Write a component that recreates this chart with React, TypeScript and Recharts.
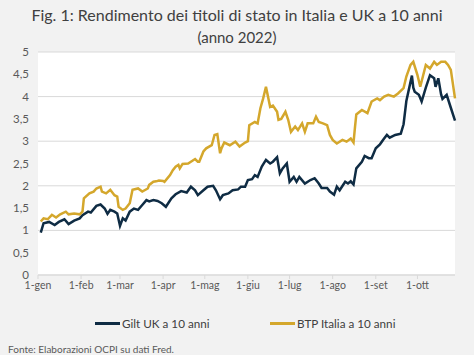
import React from "react";
import { LineChart, Line, XAxis, YAxis, CartesianGrid, Legend } from "recharts";

// Day of year (0 = 1 January 2022) and 10-year yields (%)
const giltDays = [2, 4, 8, 12, 15, 19, 22, 26, 30, 32, 36, 38, 42, 45, 48, 50, 52, 55, 57, 59, 61, 63, 66, 69, 72, 75, 78, 80, 83, 86, 89, 92, 96, 99, 103, 107, 110, 113, 115, 119, 122, 126, 128, 131, 133, 137, 140, 144, 146, 149, 151, 154, 156, 158, 161, 164, 167, 169, 172, 174, 176, 179, 181, 184, 186, 188, 192, 196, 199, 202, 204, 208, 210, 213, 215, 217, 221, 223, 225, 227, 229, 233, 235, 238, 240, 243, 246, 249, 251, 253, 257, 261, 263, 265, 269, 270, 271, 274, 276, 279, 282, 285, 286, 288, 290, 291, 294, 297, 300];
const giltValues = [0.95, 1.16, 1.19, 1.12, 1.19, 1.25, 1.14, 1.22, 1.27, 1.34, 1.42, 1.4, 1.55, 1.58, 1.49, 1.37, 1.46, 1.42, 1.38, 1.1, 1.27, 1.22, 1.42, 1.49, 1.46, 1.57, 1.68, 1.65, 1.68, 1.66, 1.61, 1.53, 1.72, 1.81, 1.88, 1.85, 1.98, 1.9, 1.79, 1.9, 1.98, 2.0, 1.9, 1.7, 1.79, 1.83, 1.9, 1.92, 1.98, 1.98, 2.13, 2.15, 2.24, 2.2, 2.43, 2.58, 2.5, 2.54, 2.64, 2.28, 2.39, 2.5, 2.09, 2.2, 2.09, 2.2, 2.05, 2.13, 2.17, 2.05, 1.95, 1.95, 1.87, 1.8, 1.98, 1.9, 2.09, 2.05, 2.1, 2.03, 2.39, 2.54, 2.67, 2.62, 2.62, 2.84, 2.93, 3.06, 3.14, 3.08, 3.14, 3.17, 3.38, 3.9, 4.47, 4.2, 4.11, 4.04, 3.89, 4.2, 4.48, 4.41, 4.22, 4.41, 4.05, 3.95, 4.04, 3.75, 3.46];

const btpDays = [2, 4, 7, 10, 13, 16, 20, 22, 26, 30, 32, 33, 37, 40, 42, 45, 46, 49, 52, 55, 57, 58, 61, 63, 66, 68, 72, 75, 79, 80, 83, 85, 87, 90, 91, 95, 97, 99, 101, 102, 104, 108, 110, 113, 115, 116, 119, 121, 125, 127, 129, 131, 132, 134, 138, 142, 145, 149, 151, 152, 156, 158, 160, 162, 164, 167, 169, 172, 173, 175, 178, 180, 182, 185, 187, 190, 192, 194, 198, 200, 202, 205, 208, 210, 212, 215, 219, 222, 225, 227, 228, 229, 233, 237, 240, 244, 246, 249, 252, 256, 259, 263, 265, 268, 270, 273, 275, 279, 282, 285, 287, 290, 293, 295, 297, 300];
const btpValues = [1.2, 1.27, 1.25, 1.35, 1.29, 1.36, 1.42, 1.36, 1.38, 1.36, 1.42, 1.72, 1.83, 1.87, 1.94, 1.98, 1.87, 1.83, 1.91, 1.79, 1.76, 1.53, 1.46, 1.49, 1.61, 1.91, 1.94, 1.87, 1.94, 2.02, 2.09, 2.1, 2.12, 2.11, 2.09, 2.24, 2.35, 2.43, 2.47, 2.39, 2.49, 2.5, 2.54, 2.6, 2.54, 2.54, 2.77, 2.84, 2.91, 3.14, 3.16, 2.73, 2.84, 2.97, 2.91, 2.99, 2.88, 2.97, 3.0, 3.36, 3.43, 3.4, 3.74, 3.96, 4.22, 3.77, 3.8, 3.66, 3.48, 3.5, 3.66, 3.48, 3.21, 3.33, 3.25, 3.4, 3.21, 3.4, 3.4, 3.55, 3.43, 3.4, 3.36, 3.14, 3.03, 2.95, 3.03, 2.99, 3.06, 2.97, 3.3, 3.6, 3.7, 3.63, 3.89, 3.96, 3.92, 4.0, 4.04, 4.0, 4.07, 4.19, 4.45, 4.71, 4.78, 4.48, 4.22, 4.71, 4.63, 4.78, 4.71, 4.78, 4.78, 4.71, 4.6, 3.96];

const monthTicks = [0, 31, 59, 90, 120, 151, 181, 212, 243, 273];
const monthLabels = ["1-gen", "1-feb", "1-mar", "1-apr", "1-mag", "1-giu", "1-lug", "1-ago", "1-set", "1-ott"];
const yTicks = [0, 0.5, 1, 1.5, 2, 2.5, 3, 3.5, 4, 4.5, 5];

const seriesNames = ["Gilt UK a 10 anni", "BTP Italia a 10 anni"];
const seriesColors = ["#0f2c44", "#d4a72c"];

const giltData = giltDays.map((d, i) => ({ day: d, value: giltValues[i] }));
const btpData = btpDays.map((d, i) => ({ day: d, value: btpValues[i] }));

const FONT = "Lato, 'Open Sans', sans-serif";

const LegendContent = () => (
  <div style={{ position: "relative", height: 18, fontFamily: FONT, fontSize: 11.7, color: "#404040" }}>
    {seriesNames.map((n, i) => (
      <div key={n} style={{ position: "absolute", left: i === 0 ? 95 : 270, top: 0, display: "flex", alignItems: "center", height: 18, whiteSpace: "nowrap" }}>
        <span style={{ display: "inline-block", width: 25, height: 3, background: seriesColors[i], marginRight: 2 }} />
        <span>{n}</span>
      </div>
    ))}
  </div>
);

export default function App() {
  return (
    <div style={{ position: "absolute", left: 0, top: 0, width: 474, height: 355, background: "#f2f2f2", fontFamily: FONT, overflow: "hidden" }}>
      <div style={{ position: "absolute", top: 4, left: 0, width: 474, textAlign: "center", fontSize: 16, color: "#404040", lineHeight: "22px", whiteSpace: "nowrap" }}>
        Fig. 1: Rendimento dei titoli di stato in Italia e UK a 10 anni
      </div>
      <div style={{ position: "absolute", top: 27, left: 0, width: 474, textAlign: "center", fontSize: 15, color: "#404040", lineHeight: "20px" }}>
        (anno 2022)
      </div>
      <div style={{ position: "absolute", left: 0, top: 0 }}>
        <LineChart width={474} height={355} margin={{ top: 52, right: 19, left: 8, bottom: 50 }}>
          <CartesianGrid vertical={false} stroke="#d9d9d9" fill="#ffffff" />
          <XAxis
            dataKey="day"
            type="number"
            domain={[0, 300]}
            ticks={monthTicks}
            tickFormatter={(v) => monthLabels[monthTicks.indexOf(v)] ?? ""}
            axisLine={{ stroke: "#d9d9d9" }}
            tickLine={{ stroke: "#d9d9d9" }}
            tickSize={4}
            tickMargin={3}
            tick={{ fill: "#595959", fontSize: 10.5, fontFamily: FONT }}
            interval={0}
            allowDuplicatedCategory={false}
          />
          <YAxis
            type="number"
            domain={[0, 5]}
            ticks={yTicks}
            width={30}
            axisLine={false}
            tickLine={false}
            tickSize={6}
            tickMargin={3}
            tickFormatter={(v) => String(v).replace(".", ",")}
            tick={{ fill: "#595959", fontSize: 11.5, fontFamily: FONT }}
          />
          <Legend
            layout="horizontal"
            verticalAlign="middle"
            align="center"
            content={<LegendContent />}
            wrapperStyle={{ position: "absolute", top: 314, left: 0, width: 474 }}
          />
          <Line data={giltData} dataKey="value" name={seriesNames[0]} stroke={seriesColors[0]} strokeWidth={2.5} dot={false} isAnimationActive={false} />
          <Line data={btpData} dataKey="value" name={seriesNames[1]} stroke={seriesColors[1]} strokeWidth={2.5} dot={false} isAnimationActive={false} />
        </LineChart>
      </div>
      <div style={{ position: "absolute", top: 342, left: 8, fontSize: 10, color: "#595959", lineHeight: "14px", whiteSpace: "nowrap" }}>
        Fonte: Elaborazioni OCPI su dati Fred.
      </div>
    </div>
  );
}
